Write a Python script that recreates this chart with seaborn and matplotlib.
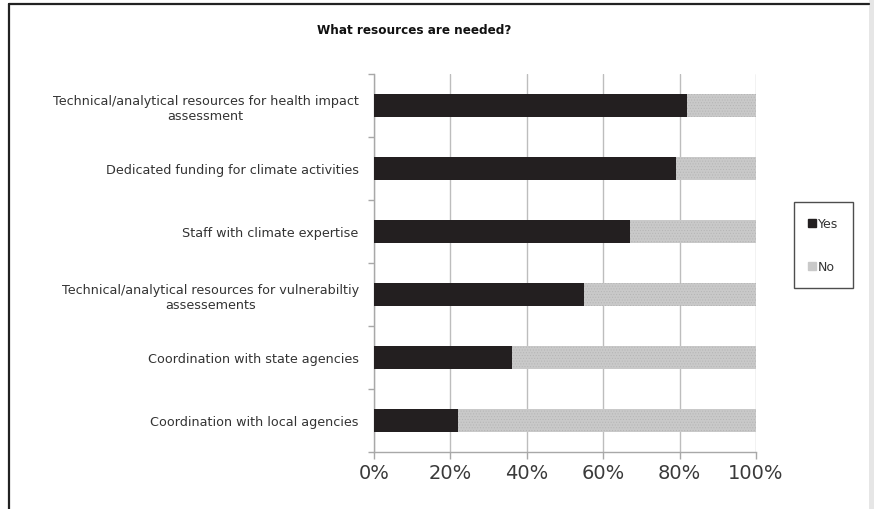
import numpy as np
import pandas as pd
import matplotlib
matplotlib.use("Agg")
import matplotlib.pyplot as plt
import seaborn as sns
from matplotlib.lines import Line2D
from matplotlib.patches import Rectangle
from matplotlib.ticker import FixedLocator, PercentFormatter

# Survey answers (% of respondents)
categories = [
    "Technical/analytical resources for health impact\nassessment",
    "Dedicated funding for climate activities",
    "Staff with climate expertise",
    "Technical/analytical resources for vulnerabiltiy\nassessements",
    "Coordination with state agencies",
    "Coordination with local agencies",
]
yes_pct = [82, 79, 67, 55, 36, 22]
no_pct = [18, 21, 33, 45, 64, 78]
x_ticks = [0, 20, 40, 60, 80, 100]

YES_COLOR = "#231f20"
NO_COLOR = "#c9c9c9"
TEXT_COLOR = "#333333"
GRID_COLOR = "#bdbdbd"

sns.set_theme(style="white")
plt.rcParams["font.family"] = ["DejaVu Sans"]
plt.rcParams["hatch.linewidth"] = 0.4

df = pd.DataFrame({"category": categories, "Yes": yes_pct, "No": no_pct})
df["Total"] = df["Yes"] + df["No"]

fig = plt.figure(figsize=(8.74, 5.10), dpi=100)
ax = fig.add_axes([374 / 874, 1 - 453 / 510, (756 - 374) / 874, (453 - 75) / 510])

# Stacked bars: full-length "No" underneath, "Yes" drawn over it
sns.barplot(data=df, x="Total", y="category", orient="h", color=NO_COLOR,
            width=0.38, saturation=1, ax=ax, zorder=2)
n_no = len(ax.patches)
sns.barplot(data=df, x="Yes", y="category", orient="h", color=YES_COLOR,
            width=0.38, saturation=1, ax=ax, zorder=3)
for i, p in enumerate(ax.patches):
    p.set_linewidth(0)
    if i < n_no:
        p.set_hatch("......")
        p.set_edgecolor("#b4b4b4")

ax.set_xlim(0, 100)
ax.set_ylim(len(categories) - 0.5, -0.5)
ax.set_xlabel("")
ax.set_ylabel("")

ax.xaxis.set_major_locator(FixedLocator(x_ticks))
ax.xaxis.set_major_formatter(PercentFormatter(decimals=0))
ax.grid(axis="x", color=GRID_COLOR, linewidth=1.0, zorder=0)
ax.set_axisbelow(True)

for s in ["top", "right"]:
    ax.spines[s].set_visible(False)
for s in ["left", "bottom"]:
    ax.spines[s].set_color("#a8a8a8")
    ax.spines[s].set_linewidth(1.0)

ax.tick_params(axis="x", which="major", length=5, width=1, color="#a8a8a8",
               labelsize=14, labelcolor="#3a3a3a", pad=3, bottom=True)
ax.tick_params(axis="y", which="major", length=0, labelsize=9.2,
               labelcolor=TEXT_COLOR, pad=11)
ax.yaxis.set_minor_locator(FixedLocator(np.arange(-0.5, len(categories), 1.0)))
ax.tick_params(axis="y", which="minor", length=4, width=1, color="#a8a8a8", left=True)
for lbl in ax.get_yticklabels():
    lbl.set_multialignment("center")

fig.text(414 / 874, 1 - 31 / 510, "What resources are needed?",
         ha="center", va="center", fontsize=9.6, fontweight="bold",
         fontstretch="condensed", family=["DejaVu Sans"], color="#111111")

handles = [
    Line2D([], [], marker="s", linestyle="", markersize=5.5,
           markerfacecolor=YES_COLOR, markeredgecolor=YES_COLOR),
    Line2D([], [], marker="s", linestyle="", markersize=5.5,
           markerfacecolor=NO_COLOR, markeredgecolor=NO_COLOR),
]
leg = fig.legend(handles, ["Yes", "No"], loc="center",
                 bbox_to_anchor=(823.5 / 874, 1 - 246 / 510),
                 frameon=True, fancybox=False, fontsize=9,
                 labelspacing=2.4, handlelength=0.6, handletextpad=0.15,
                 borderpad=1.2, borderaxespad=0)
leg.get_frame().set_edgecolor("#222222")
leg.get_frame().set_linewidth(1.0)
for t in leg.get_texts():
    t.set_color(TEXT_COLOR)

# Outer frame of the figure
fig.add_artist(Line2D([8.5 / 874, 8.5 / 874], [0, 1 - 4.5 / 510],
                      transform=fig.transFigure, color="#222222", linewidth=1.6))
fig.add_artist(Line2D([8.5 / 874, 869 / 874], [1 - 4.5 / 510, 1 - 4.5 / 510],
                      transform=fig.transFigure, color="#222222", linewidth=1.6))
fig.add_artist(Rectangle((869 / 874, 0), 5 / 874, 1, transform=fig.transFigure,
                         facecolor="#e6e6e6", edgecolor="none"))

fig.savefig("out.png", dpi=100)
